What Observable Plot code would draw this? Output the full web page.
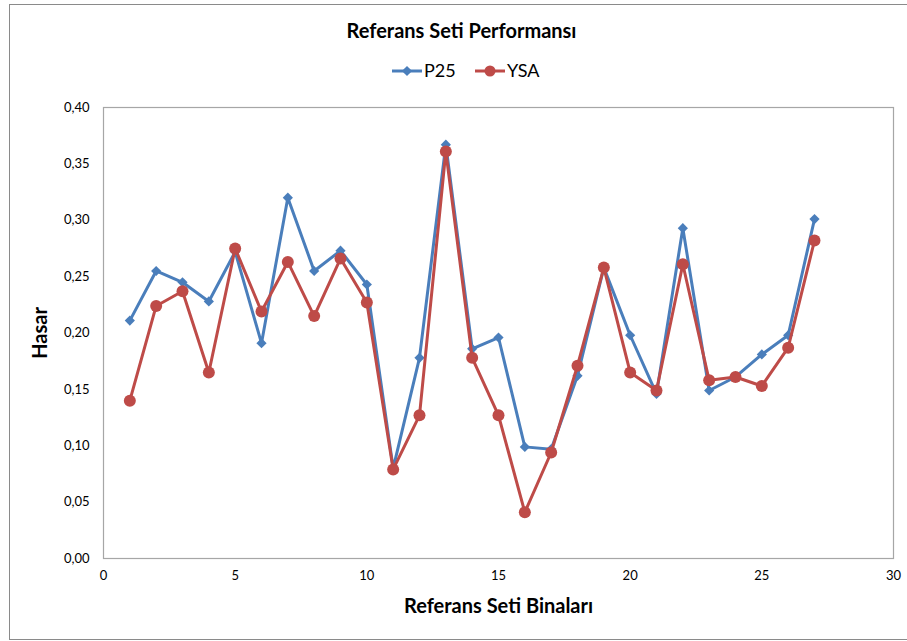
<!DOCTYPE html>
<html>
<head>
<meta charset="utf-8">
<script src="https://cdn.jsdelivr.net/npm/d3@7"></script>
<script src="https://cdn.jsdelivr.net/npm/@observablehq/plot@0.6"></script>
<style>
  html, body { margin: 0; padding: 0; background: #fff; overflow: hidden; }
  #chart { position: relative; width: 907px; height: 641px; font-family: Lato, "DejaVu Sans", sans-serif; color: #000; overflow: hidden; }
  #border { position: absolute; left: 9px; top: 4px; width: 910px; height: 636px; border: 1px solid #8a8a8a; box-sizing: border-box; }
  #title { position: absolute; left: 8px; width: 907px; top: 18px; text-align: center; font-weight: bold; font-size: 20px; line-height: 24px; }
  #legend { position: absolute; left: 14px; width: 907px; top: 59px; height: 24px; text-align: center; }
  #plot { position: absolute; left: 0; top: 90px; }
</style>
</head>
<body>
<div id="chart">
  <div id="border"></div>
  <div id="title">Referans Seti Performansı</div>
  <div id="legend"></div>
  <div id="plot"></div>
</div>
<script>
// Building index (reference set) and damage values for the two methods
const buildings = [1, 2, 3, 4, 5, 6, 7, 8, 9, 10, 11, 12, 13, 14, 15, 16, 17, 18, 19, 20, 21, 22, 23, 24, 25, 26, 27];
const p25 = [0.211, 0.255, 0.245, 0.228, 0.272, 0.191, 0.320, 0.255, 0.273, 0.243, 0.080, 0.178, 0.367, 0.186, 0.196, 0.099, 0.097, 0.162, 0.258, 0.198, 0.146, 0.293, 0.149, 0.161, 0.181, 0.198, 0.301];
const ysa = [0.140, 0.224, 0.237, 0.165, 0.275, 0.219, 0.263, 0.215, 0.266, 0.227, 0.079, 0.127, 0.361, 0.178, 0.127, 0.041, 0.094, 0.171, 0.258, 0.165, 0.149, 0.261, 0.158, 0.161, 0.153, 0.187, 0.282];

const xTicks = [0, 5, 10, 15, 20, 25, 30];
const yTicks = [0, 0.05, 0.10, 0.15, 0.20, 0.25, 0.30, 0.35, 0.40];

const seriesNames = ["P25", "YSA"];
const seriesColors = ["#4a7ebb", "#be4b48"];

const rowsP25 = buildings.map((b, i) => ({ b, v: p25[i] }));
const rowsYSA = buildings.map((b, i) => ({ b, v: ysa[i] }));

const comma = d => d.toFixed(2).replace(".", ",");

const chart = Plot.plot({
  width: 907,
  height: 551,
  marginTop: 17,
  marginBottom: 83,
  marginLeft: 103,
  marginRight: 14,
  style: { fontFamily: "Lato, 'DejaVu Sans', sans-serif", fontSize: "13px", color: "#000", background: "transparent" },
  x: { domain: [0, 30] },
  y: { domain: [0, 0.4] },
  marks: [
    Plot.frame({ stroke: "#a6a6a6", strokeWidth: 1.2 }),
    Plot.axisY({ ticks: yTicks, tickFormat: comma, tickSize: 0, tickPadding: 14, label: null, fontSize: 13 }),
    Plot.axisX({ ticks: xTicks, tickSize: 0, tickPadding: 12, label: null, fontSize: 13 }),
    Plot.text(["Hasar"], { text: d => d, frameAnchor: "left", textAnchor: "middle", lineAnchor: "middle", rotate: -90, dx: -63, fontSize: 20, fontWeight: "bold" }),
    Plot.text(["Referans Seti Binaları"], { text: d => d, frameAnchor: "bottom", textAnchor: "middle", lineAnchor: "middle", dy: 48, fontSize: 20, fontWeight: "bold" }),
    // P25 series
    Plot.line(rowsP25, { x: "b", y: "v", stroke: seriesColors[0], strokeWidth: 3 }),
    Plot.dot(rowsP25, { x: "b", y: "v", symbol: "diamond2", r: 4.6, fill: seriesColors[0], stroke: "none" }),
    // YSA series
    Plot.line(rowsYSA, { x: "b", y: "v", stroke: seriesColors[1], strokeWidth: 3 }),
    Plot.dot(rowsYSA, { x: "b", y: "v", symbol: "circle", r: 6, fill: seriesColors[1], stroke: "none" })
  ]
});
document.getElementById("plot").appendChild(chart);

// Legend: line with marker, then series name
const legend = d3.select("#legend").append("svg")
  .attr("width", 152).attr("height", 24)
  .style("display", "inline-block")
  .style("font-family", "Lato, 'DejaVu Sans', sans-serif")
  .style("font-size", "18px");
const symbols = [d3.symbolDiamond2, d3.symbolCircle];
const sizes = [4.6, 5.5];
const itemX = [0, 83];
seriesNames.forEach((name, i) => {
  const g = legend.append("g").attr("transform", `translate(${itemX[i]},12)`);
  g.append("line").attr("x1", 0).attr("x2", 30).attr("y1", 0).attr("y2", 0)
    .attr("stroke", seriesColors[i]).attr("stroke-width", 3);
  g.append("path").attr("transform", "translate(15,0)")
    .attr("d", d3.symbol(symbols[i], sizes[i] * sizes[i] * Math.PI)())
    .attr("fill", seriesColors[i]);
  g.append("text").attr("x", 32).attr("y", 0).attr("dy", "0.36em").text(name);
});
</script>
</body>
</html>
